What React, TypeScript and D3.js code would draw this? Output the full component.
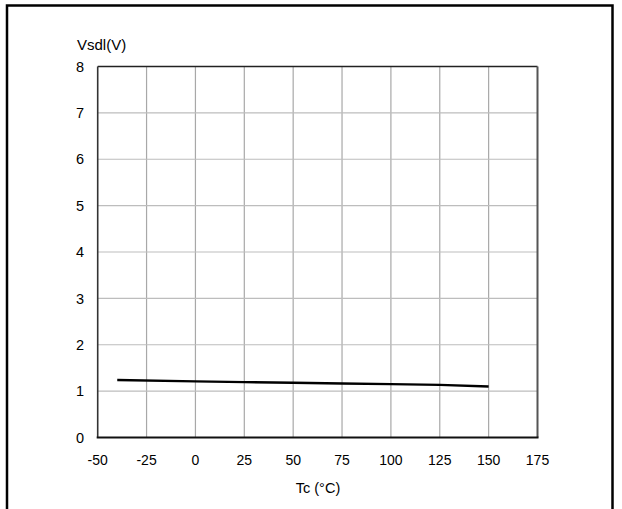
import React from 'react'
import * as d3 from 'd3'

const tempC = [-40, 0, 25, 50, 75, 100, 125, 150]
const vsdl = [1.24, 1.21, 1.195, 1.18, 1.165, 1.15, 1.135, 1.1]
const xTicks = [-50, -25, 0, 25, 50, 75, 100, 125, 150, 175]
const yTicks = [0, 1, 2, 3, 4, 5, 6, 7, 8]

export default function App() {
    const width = 622
    const height = 509
    const margin = { top: 66.5, right: 84.5, bottom: 71.5, left: 97.7 }

    const x = d3.scaleLinear().domain([-50, 175]).range([margin.left, width - margin.right])
    const y = d3.scaleLinear().domain([0, 8]).range([height - margin.bottom, margin.top])

    const line = d3.line<number>()
        .x((d, i) => x(tempC[i]))
        .y(d => y(d))

    const font = 'Arial, "Liberation Sans", sans-serif'

    return (
        <svg width={width} height={height} style={{ position: 'absolute', left: 0, top: 0, background: '#fff' }}>
            {/* outer frame */}
            <rect x={7} y={5.5} width={605.5} height={520} fill="none" stroke="#000" strokeWidth={2.5} />

            {/* grid */}
            {xTicks.slice(1, -1).map(t => (
                <line key={'gx' + t} x1={x(t)} x2={x(t)} y1={y(8)} y2={y(0)} stroke="#a8a8a8" strokeWidth={1.2} />
            ))}
            {yTicks.slice(1, -1).map(t => (
                <line key={'gy' + t} x1={x(-50)} x2={x(175)} y1={y(t)} y2={y(t)} stroke="#bdbdbd" strokeWidth={1.2} />
            ))}

            {/* plot border */}
            <line x1={x(-50)} x2={x(175)} y1={y(8)} y2={y(8)} stroke="#222" strokeWidth={1.3} />
            <line x1={x(175)} x2={x(175)} y1={y(8)} y2={y(0)} stroke="#555" strokeWidth={2} />
            <line x1={x(-50)} x2={x(-50)} y1={y(8)} y2={y(0)} stroke="#333" strokeWidth={1.6} />
            <line x1={x(-50) - 1} x2={x(175) + 1} y1={y(0)} y2={y(0)} stroke="#111" strokeWidth={2} />

            {/* data */}
            <path d={line(vsdl) || ''} fill="none" stroke="#000" strokeWidth={2.4} />

            {/* y tick labels */}
            {yTicks.map(t => (
                <text key={'ty' + t} x={84} y={y(t)} dy="0.36em" textAnchor="end" fontFamily={font} fontSize={14.5}>{t}</text>
            ))}
            {/* x tick labels */}
            {xTicks.map(t => (
                <text key={'tx' + t} x={x(t)} y={465} textAnchor="middle" fontFamily={font} fontSize={14}>{t}</text>
            ))}

            <text x={77} y={49.5} fontFamily={font} fontSize={15}>Vsdl(V)</text>
            <text x={318} y={493} textAnchor="middle" fontFamily={font} fontSize={14.5}>Tc (°C)</text>
        </svg>
    )
}
